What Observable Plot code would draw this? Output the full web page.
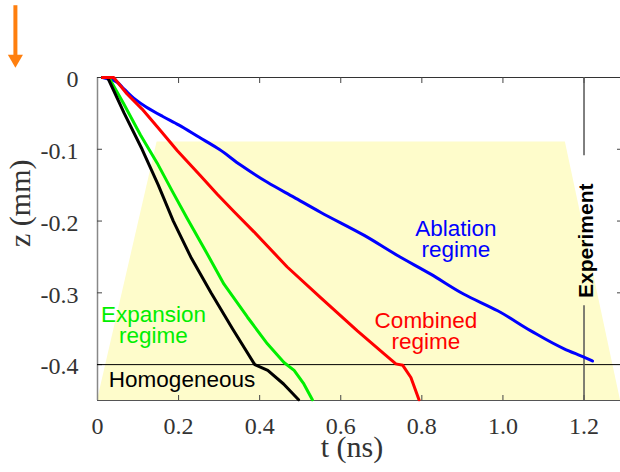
<!DOCTYPE html>
<html><head><meta charset="utf-8">
<script src="https://cdn.jsdelivr.net/npm/d3@7"></script>
<script src="https://cdn.jsdelivr.net/npm/@observablehq/plot@0.6"></script>
<style>body{margin:0;background:#fff}</style>
</head><body><div id="chart"></div>
<script>
// axis ticks
const xTicks = [0, 0.2, 0.4, 0.6, 0.8, 1.0, 1.2];
const xTickLabels = ["0", "0.2", "0.4", "0.6", "0.8", "1.0", "1.2"];
const yTicks = [0, -0.1, -0.2, -0.3, -0.4];
const yTickLabels = ["0", "-0.1", "-0.2", "-0.3", "-0.4"];

// series (t in ns, z in mm)
const ablationT = [0.012,0.040,0.065,0.090,0.120,0.160,0.200,0.250,0.300,0.353,0.419,0.485,0.551,0.658,0.740,0.822,0.904,0.987,1.069,1.151,1.201,1.221];
const ablationZ = [0,-0.004,-0.016,-0.029,-0.041,-0.054,-0.066,-0.083,-0.100,-0.122,-0.146,-0.167,-0.188,-0.220,-0.248,-0.274,-0.302,-0.325,-0.353,-0.378,-0.390,-0.395];

const combinedT = [0.012,0.040,0.073,0.110,0.151,0.197,0.254,0.296,0.337,0.386,0.468,0.551,0.641,0.707,0.736,0.753,0.773,0.793];
const combinedZ = [0,0,-0.023,-0.044,-0.071,-0.102,-0.137,-0.163,-0.187,-0.215,-0.264,-0.307,-0.353,-0.385,-0.399,-0.401,-0.418,-0.449];

const expansionT = [0.012,0.028,0.065,0.106,0.147,0.184,0.221,0.267,0.312,0.370,0.419,0.460,0.485,0.509,0.530];
const expansionZ = [0,0,-0.037,-0.080,-0.119,-0.158,-0.196,-0.242,-0.288,-0.334,-0.371,-0.397,-0.408,-0.427,-0.449];

const homogeneousT = [0.012,0.025,0.066,0.110,0.150,0.187,0.230,0.280,0.333,0.388,0.420,0.459,0.496];
const homogeneousZ = [0,0,-0.050,-0.100,-0.150,-0.200,-0.250,-0.300,-0.350,-0.400,-0.408,-0.427,-0.449];

// shaded region outline
const regionT = [0, 0.147, 1.154, 1.29];
const regionZ = [-0.45, -0.09, -0.09, -0.45];

// reference lines
const experimentT = 1.2;
const homogeneousLimitZ = -0.4;
const experimentGaps = [{z1: 0, z2: -0.109}, {z1: -0.318, z2: -0.45}];

// labels
const regimeLabels = [
  {t: 0.884, z: -0.226, text: "Ablation\nregime", color: "#0000ff"},
  {t: 0.138, z: -0.346, text: "Expansion\nregime", color: "#00ee00"},
  {t: 0.810, z: -0.354, text: "Combined\nregime", color: "#ff0000"}
];
const homogeneousLabel = [{t: 0.028, z: -0.4217, text: "Homogeneous"}];
const experimentLabel = [{t: 1.2, z: -0.2274, text: "Experiment"}];

// direction marker in top-left margin
const marker = [{t: -0.2025, zTop: 0.100, zEnd: 0.029, zHead: 0.0256}];

const mk = (T, Z) => T.map((t, i) => ({t, z: Z[i]}));
const ablation = mk(ablationT, ablationZ);
const combined = mk(combinedT, combinedZ);
const expansion = mk(expansionT, expansionZ);
const homogeneous = mk(homogeneousT, homogeneousZ);
const region = mk(regionT, regionZ);

const W = 620, H = 472, mL = 97, mR = 0, mT = 77, mB = 72;
const pw = W - mL - mR, ph = H - mT - mB;
const serif = "'Liberation Serif', 'Times New Roman', serif";
const sans = "'Liberation Sans', Arial, sans-serif";

const chart = Plot.plot({
  width: W, height: H,
  marginLeft: mL, marginRight: mR, marginTop: mT, marginBottom: mB,
  style: {fontFamily: serif, fontSize: "24px", background: "#fff", overflow: "visible"},
  x: {domain: [0, 1.29], axis: null},
  y: {domain: [-0.45, 0], axis: null},
  marks: [
    Plot.areaY(region, {x: "t", y1: -0.45, y2: "z", fill: "#fefccb", curve: "linear"}),
    // frame
    Plot.ruleY([-0.45], {stroke: "#555", strokeWidth: 1.2}),
    Plot.ruleX([0], {stroke: "#888", strokeWidth: 1.5}),
    Plot.ruleY([0], {stroke: "#333", strokeWidth: 1.2}),
    // inward ticks
    Plot.ruleX(xTicks.slice(1), {x: d => d, insetBottom: ph - 6, stroke: "#444"}),
    Plot.ruleX(xTicks.slice(1), {x: d => d, insetTop: ph - 5, stroke: "#444"}),
    Plot.ruleY(yTicks.slice(1), {y: d => d, insetRight: pw - 5, stroke: "#444"}),
    Plot.ruleY(yTicks.slice(1, 4), {y: d => d, insetLeft: pw - 3, stroke: "#444"}),
    // reference lines
    Plot.ruleY([homogeneousLimitZ], {stroke: "#000", strokeWidth: 1}),
    Plot.ruleX(experimentGaps, {x: () => experimentT, y1: "z1", y2: "z2", stroke: "#555", strokeWidth: 1.5}),
    // curves
    Plot.line(ablation, {x: "t", y: "z", stroke: "#0000ff", strokeWidth: 3, strokeLinejoin: "round", curve: "monotone-y"}),
    Plot.line(expansion, {x: "t", y: "z", stroke: "#00ee00", strokeWidth: 3, strokeLinejoin: "round"}),
    Plot.line(homogeneous, {x: "t", y: "z", stroke: "#000", strokeWidth: 3, strokeLinejoin: "round"}),
    Plot.line(combined, {x: "t", y: "z", stroke: "#ff0000", strokeWidth: 3, strokeLinejoin: "round"}),
    // labels
    Plot.text(regimeLabels, {x: "t", y: "z", text: "text", fill: "color", textAnchor: "middle", lineAnchor: "middle", lineHeight: 0.93, fontFamily: sans, fontSize: 22.5}),
    Plot.text(homogeneousLabel, {x: "t", y: "z", text: "text", fill: "#000", textAnchor: "start", lineAnchor: "middle", fontFamily: sans, fontSize: 22.5}),
    Plot.text(experimentLabel, {x: "t", y: "z", text: "text", rotate: -90, dx: 2, lineAnchor: "middle", fontFamily: sans, fontWeight: "bold", fontSize: 21, fill: "#000"}),
    // tick labels
    Plot.text(xTicks, {x: d => d, text: (d, i) => xTickLabels[i], frameAnchor: "bottom", lineAnchor: "top", dy: 16, fontFamily: serif, fontSize: 24, fill: "#333"}),
    Plot.text(yTicks, {y: d => d, text: (d, i) => yTickLabels[i], frameAnchor: "left", textAnchor: "end", lineAnchor: "middle", dx: -19, dy: 2, fontFamily: serif, fontSize: 24, fill: "#333"}),
    // axis titles
    Plot.text(["t (ns)"], {frameAnchor: "bottom", dx: -7, dy: 47, lineAnchor: "middle", fontSize: 30, fontFamily: serif, fill: "#333"}),
    Plot.text(["z (mm)"], {frameAnchor: "left", dx: -77, dy: 8, rotate: -90, lineAnchor: "middle", fontSize: 30, fontFamily: serif, fill: "#333"}),
    // direction marker
    Plot.ruleX(marker, {x: "t", y1: "zTop", y2: "zEnd", stroke: "#ff7f0e", strokeWidth: 4}),
    Plot.dot(marker, {x: "t", y: "zHead", symbol: "triangle", rotate: 180, r: 5.6, fill: "#ff7f0e", stroke: "none"})
  ]
});
document.getElementById("chart").append(chart);
</script>
</body></html>
